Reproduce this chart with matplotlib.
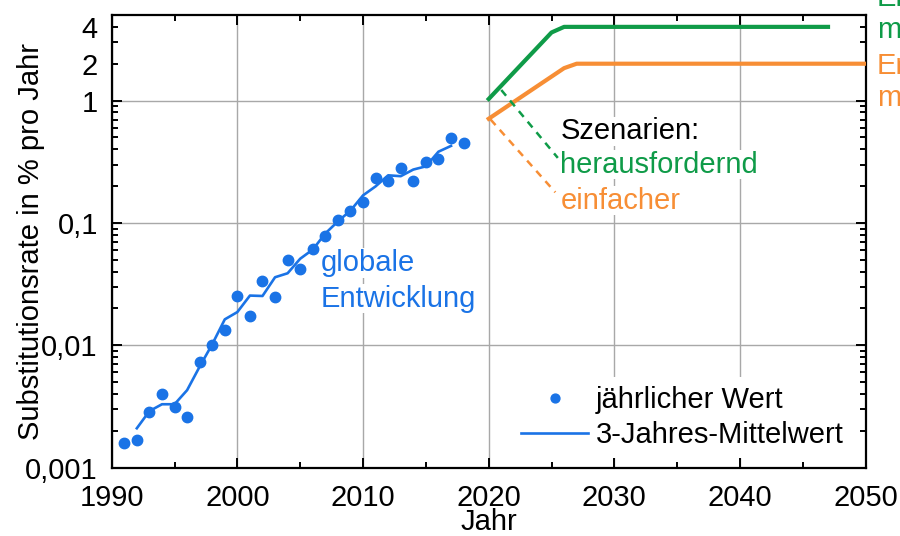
import matplotlib.pyplot as plt
import numpy as np

plt.rcParams['font.family'] = ['Liberation Sans', 'DejaVu Sans']
plt.rcParams['font.size'] = 21

# jährliche Werte (Punkte)
jahre = list(range(1991, 2019))
werte = [0.0016, 0.0017, 0.00286, 0.0040, 0.00315, 0.0026, 0.0073, 0.0101,
         0.0133, 0.0254, 0.0174, 0.0336, 0.025, 0.0495, 0.0418, 0.0617,
         0.0783, 0.106, 0.126, 0.147, 0.231, 0.220, 0.283, 0.220,
         0.316, 0.333, 0.497, 0.447]

# 3-Jahres-Mittelwert (Linie)
mittel_jahre = list(range(1992, 2018))
mittel_werte = [0.0021, 0.0029, 0.0033, 0.0033, 0.0043, 0.0067, 0.0102, 0.0163,
                0.0187, 0.0255, 0.0253, 0.036, 0.0388, 0.051, 0.0606, 0.082,
                0.103, 0.126, 0.168, 0.199, 0.245, 0.241, 0.273, 0.290,
                0.382, 0.426]

# Szenarien
heraus_jahre = [2020, 2025, 2026, 2047]
heraus_werte = [1.03, 3.6, 4.0, 4.0]
einfach_jahre = [2020, 2026, 2027, 2050]
einfach_werte = [0.71, 1.84, 2.0, 2.0]

# Hinweislinien zu den Beschriftungen
heraus_hinweis_x = [2021, 2025.5]
heraus_hinweis_y = [1.22, 0.34]
einfach_hinweis_x = [2020.15, 2025.3]
einfach_hinweis_y = [0.70, 0.178]

blau = '#1a73e6'
gruen = '#0f9b48'
orange = '#f78e35'

fig = plt.figure(figsize=(9, 5.36), dpi=100)
ax = fig.add_axes([0.1241, 0.1274, 0.8378, 0.8446])

ax.set_yscale('log')
ax.set_xlim(1990, 2050)
ax.set_ylim(0.001, 5.0)

ax.plot(mittel_jahre, mittel_werte, color=blau, lw=1.9, zorder=3, label='3-Jahres-Mittelwert')
ax.plot(jahre, werte, 'o', color=blau, ms=7.5, zorder=4, label='jährlicher Wert')

ax.plot(heraus_jahre, heraus_werte, color=gruen, lw=3, zorder=3)
ax.plot(einfach_jahre, einfach_werte, color=orange, lw=3, zorder=3)
ax.plot(heraus_hinweis_x, heraus_hinweis_y, color=gruen, lw=1.8, ls=(0, (3, 2.5)), zorder=3)
ax.plot(einfach_hinweis_x, einfach_hinweis_y, color=orange, lw=1.8, ls=(0, (3, 2.5)), zorder=3)

# Achsen, Ticks
ax.set_xticks(range(1990, 2051, 10))
ax.set_xticks(range(1995, 2050, 10), minor=True)
ax.set_yticks([0.001, 0.01, 0.1, 1], ['0,001', '0,01', '0,1', '1'])
minor_y = []
for d in [0.001, 0.01, 0.1]:
    minor_y += [k * d for k in range(2, 10)]
minor_y += [2, 3, 4]
ax.set_yticks(minor_y, ['2' if v == 2 else '4' if v == 4 else '' for v in minor_y], minor=True)

ax.tick_params(which='both', direction='in', top=True, right=True, width=1.4, colors='black')
ax.tick_params(which='major', length=7.5)
ax.tick_params(which='minor', length=4)
ax.tick_params(axis='x', which='both', pad=12)
ax.tick_params(axis='y', which='both', pad=10)
for s in ax.spines.values():
    s.set_linewidth(1.6)

ax.grid(True, which='major', color='#a8a8a8', lw=1)
ax.set_axisbelow(True)

ax.set_xlabel('Jahr')
ax.set_ylabel('Substitutionsrate in % pro Jahr')
ax.xaxis.set_label_coords(0.5, -0.09)
ax.yaxis.set_label_coords(-0.088, 0.5)

box = dict(facecolor='white', edgecolor='none', pad=0.5)
ax.text(2006.6, 0.047, 'globale', color=blau, va='center', bbox=box, zorder=5)
ax.text(2006.6, 0.024, 'Entwicklung', color=blau, va='center', bbox=box, zorder=5)
ax.text(2025.7, 0.56, 'Szenarien:', color='black', va='center', bbox=box, zorder=5)
ax.text(2025.7, 0.30, 'herausfordernd', color=gruen, va='center', bbox=box, zorder=5)
ax.text(2025.7, 0.152, 'einfacher', color=orange, va='center', bbox=box, zorder=5)

# am rechten Rand angeschnittene Beschriftungen wie im Original
ax.text(1.015, 1.002, 'Endwert\nmaximal', color=gruen, transform=ax.transAxes,
        va='center', ha='left', clip_on=False, linespacing=1.2)
ax.text(1.015, 0.852, 'Endwert\nmaximal', color=orange, transform=ax.transAxes,
        va='center', ha='left', clip_on=False, linespacing=1.2)

handles, labels = ax.get_legend_handles_labels()
leg = ax.legend(handles[::-1], labels[::-1], loc='lower right', bbox_to_anchor=(0.982, 0.022),
                frameon=True, fancybox=False, handlelength=2.3, handletextpad=0.25,
                labelspacing=0.25, borderaxespad=0, borderpad=0.3, markerscale=0.85)
leg.get_frame().set_facecolor('white')
leg.get_frame().set_linewidth(0)
leg.get_frame().set_alpha(1)

fig.savefig('out.png', dpi=100)
